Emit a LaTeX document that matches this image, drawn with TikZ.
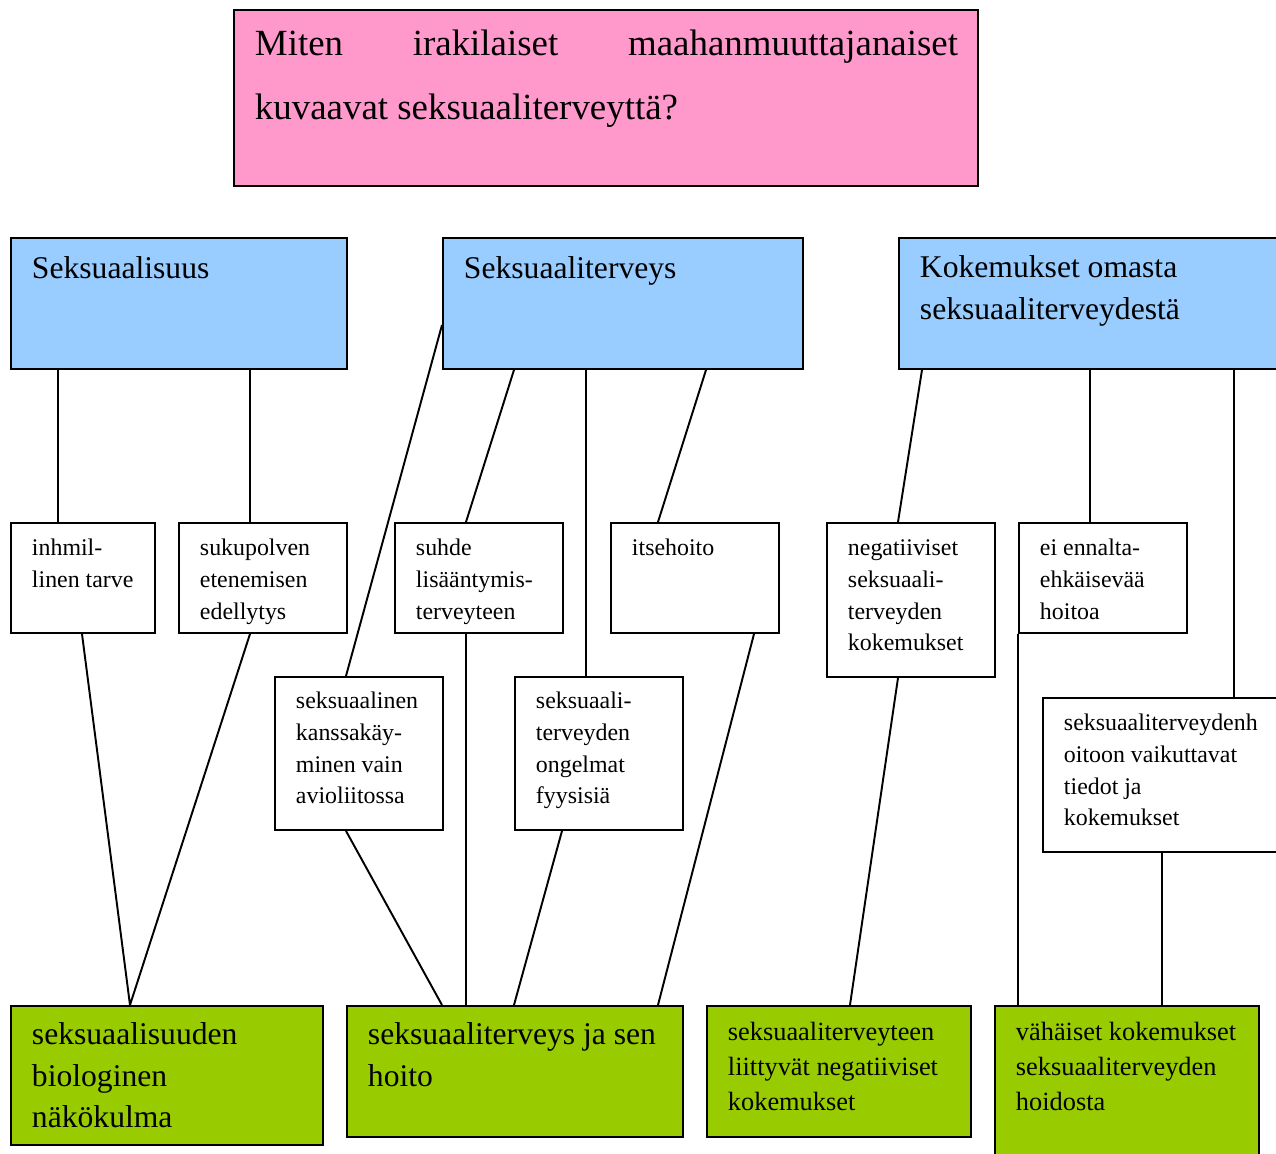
\documentclass[tikz,border=0pt]{standalone}
\usepackage{fontspec}
\setmainfont{Liberation Serif}
\usetikzlibrary{calc}

\definecolor{qpink}{HTML}{FF99CC}
\definecolor{themeblue}{HTML}{99CCFF}
\definecolor{resgreen}{HTML}{99CC00}

\newlength\px
\setlength\px{0.02cm}
% box text: width, height, first baseline, text
\newcommand\cell[4]{\parbox[t][#2\px][t]{#1\px}{\leftskip=21\px\relax\rightskip=0pt plus 1fil\relax\parfillskip=0pt plus 1fil\relax\rule{0pt}{#3\px}#4}}

\tikzset{
    box/.style={draw, line width=1.1pt, inner sep=0pt, anchor=north west},
    question/.style={box, fill=qpink, font=\fontsize{21}{35.9}\selectfont},
    theme/.style={box, fill=themeblue, font=\fontsize{18}{23.6}\selectfont},
    item/.style={box, fill=white, font=\fontsize{13.6}{18}\selectfont},
    result/.style={box, fill=resgreen, font=\fontsize{18}{23.6}\selectfont},
    resultsmall/.style={box, fill=resgreen, font=\fontsize{15}{19.9}\selectfont},
    link/.style={line width=1.1pt}
}

\begin{document}
\begin{tikzpicture}[x=0.02cm, y=-0.02cm]
        \useasboundingbox (0,0) rectangle (1276,1154);
        \fill[white] (0,0) rectangle (1276,1154);
        \clip (0,0) rectangle (1276,1154);

        \node[question] (q) at (233,9)
            {\parbox[t][176\px][t]{744\px}{\leftskip=21\px\relax\rightskip=20\px\relax\rule{0pt}{46\px}Miten irakilaiset maahanmuuttajanaiset\linebreak kuvaavat seksuaaliterveyttä?}};

        % themes
        \node[theme] (sx) at (10,237)  {\cell{336}{131}{41}{Seksuaalisuus}};
        \node[theme] (st) at (442,237) {\cell{360}{131}{41}{Seksuaaliterveys}};
        \node[theme] (ko) at (898,237) {\cell{400}{131}{40}{Kokemukset omasta\\seksuaaliterveydestä}};

        % items
        \node[item] (inh) at (10,522)   {\cell{144}{110}{33}{inhmil-\\linen tarve}};
        \node[item] (suk) at (178,522)  {\cell{168}{110}{33}{sukupolven\\etenemisen\\edellytys}};
        \node[item] (suh) at (394,522)  {\cell{168}{110}{33}{suhde\\lisääntymis-\\terveyteen}};
        \node[item] (its) at (610,522)  {\cell{168}{110}{33}{itsehoito}};
        \node[item] (neg) at (826,522)  {\cell{168}{154}{33}{negatiiviset\\seksuaali-\\terveyden\\kokemukset}};
        \node[item] (ei)  at (1018,522) {\cell{168}{110}{33}{ei ennalta-\\ehkäisevää\\hoitoa}};
        \node[item] (sk)  at (274,676)  {\cell{168}{153}{32}{seksuaalinen\\kanssakäy-\\minen vain\\avioliitossa}};
        \node[item] (sto) at (514,676)  {\cell{168}{153}{32}{seksuaali-\\terveyden\\ongelmat\\fyysisiä}};
        \node[item] (sh)  at (1042,697) {\cell{250}{154}{33}{seksuaaliterveydenh\\oitoon vaikuttavat\\tiedot ja\\kokemukset}};

        % results
        \node[result] (g1) at (10,1005)  {\cell{312}{139}{39}{seksuaalisuuden\\biologinen\\näkökulma}};
        \node[result] (g2) at (346,1005) {\cell{336}{131}{39}{seksuaaliterveys ja sen\\hoito}};
        \node[resultsmall] (g3) at (706,1005) {\cell{264}{131}{35}{seksuaaliterveyteen\\liittyvät negatiiviset\\kokemukset}};
        \node[resultsmall] (g4) at (994,1005) {\cell{264}{170}{35}{vähäiset kokemukset\\seksuaaliterveyden\\hoidosta}};

        \draw[link]
            ($(sx.south west)+(48,0)$)  -- ($(inh.north west)+(48,0)$)
            ($(sx.south west)+(240,0)$) -- ($(suk.north west)+(72,0)$)
            ($(inh.south west)+(72,0)$) -- ($(g1.north west)+(120,0)$)
            ($(suk.south west)+(72,0)$) -- ($(g1.north west)+(120,0)$)
            ($(st.north west)+(0,88)$)  -- ($(sk.north west)+(72,0)$)
            ($(st.south west)+(72,0)$)  -- ($(suh.north west)+(72,0)$)
            ($(st.south west)+(144,0)$) -- ($(sto.north west)+(72,0)$)
            ($(st.south west)+(264,0)$) -- ($(its.north west)+(48,0)$)
            ($(suh.south west)+(72,0)$) -- ($(g2.north west)+(120,0)$)
            ($(sk.south west)+(72,0)$)  -- ($(g2.north west)+(96,0)$)
            ($(sto.south west)+(48,0)$) -- ($(g2.north west)+(168,0)$)
            ($(its.south west)+(144,0)$) -- ($(g2.north west)+(312,0)$)
            ($(ko.south west)+(24,0)$)  -- ($(neg.north west)+(72,0)$)
            ($(ko.south west)+(192,0)$) -- ($(ei.north west)+(72,0)$)
            ($(ko.south west)+(336,0)$) -- ($(sh.north west)+(192,0)$)
            ($(neg.south west)+(72,0)$) -- ($(g3.north west)+(144,0)$)
            (ei.south west)             -- ($(g4.north west)+(24,0)$)
            ($(sh.south west)+(120,0)$) -- ($(g4.north west)+(168,0)$)
            ;
\end{tikzpicture}
\end{document}
